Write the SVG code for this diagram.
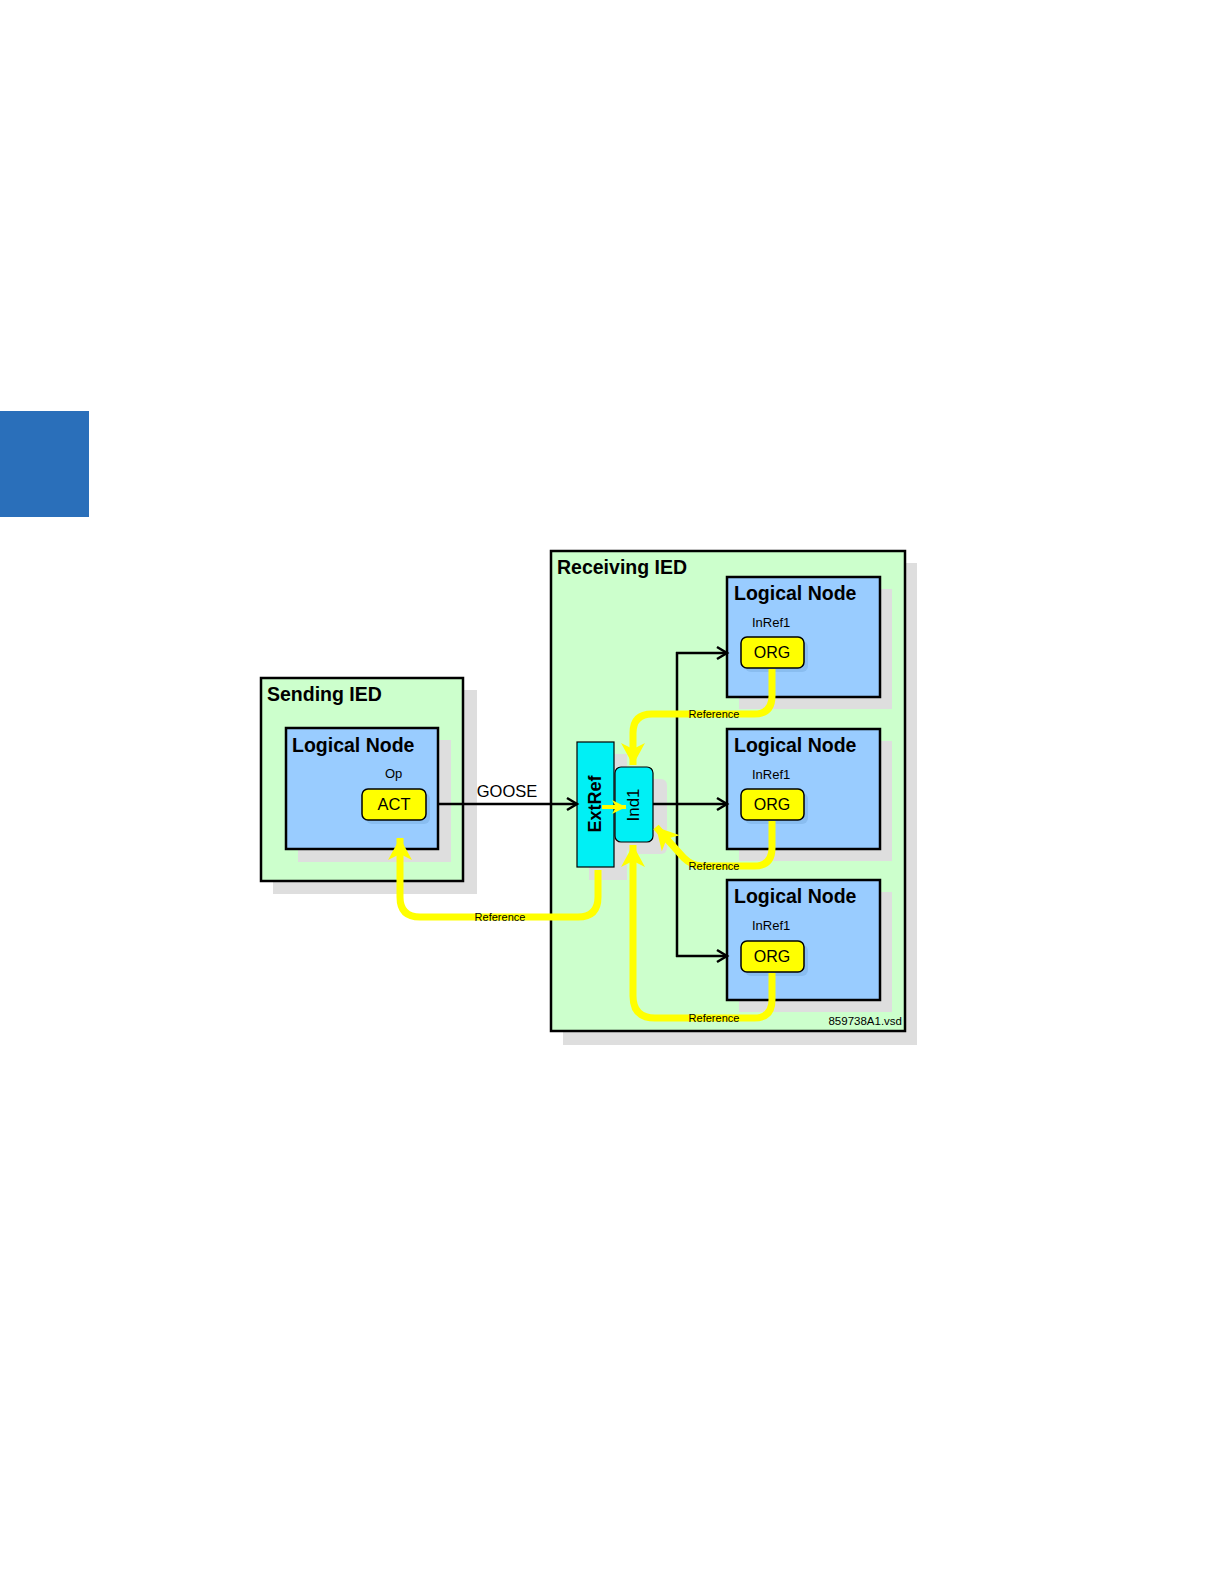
<svg xmlns="http://www.w3.org/2000/svg" width="1224" height="1584" viewBox="0 0 1224 1584">
<defs>
<style>
.ied{fill:#ccffcc;stroke:#000;stroke-width:2.5}
.ln{fill:#99ccff;stroke:#000;stroke-width:2.5}
.sh{fill:#dedede}
.box{fill:#ffff00;stroke:#000;stroke-width:1.5}
.bsh{fill:#7fb2e6;opacity:0.6}
.cy{fill:#00f0f5;stroke:#000;stroke-width:1.2}
.t{font-family:"Liberation Sans",Arial,sans-serif;fill:#000}
.b{font-weight:bold}
.link{fill:none;stroke:#000;stroke-width:2.5}
.ref{fill:none;stroke:#ffff00;stroke-width:7;stroke-linecap:butt}
</style>
<marker id="blk" markerUnits="userSpaceOnUse" markerWidth="16" markerHeight="16" refX="12" refY="8" orient="auto">
<path d="M2,2 L12,8 L2,14" fill="none" stroke="#000" stroke-width="2.5"/>
</marker>
<marker id="yel" markerUnits="userSpaceOnUse" markerWidth="26" markerHeight="26" refX="22" refY="13" orient="auto">
<path d="M0,1 L22,13 L0,25 L6,13 Z" fill="#ffff00"/>
</marker>
<marker id="yels" markerUnits="userSpaceOnUse" markerWidth="16" markerHeight="16" refX="14" refY="8" orient="auto">
<path d="M0,1 L14,8 L0,15 L4,8 Z" fill="#ffff00"/>
</marker>
</defs>
<rect x="0" y="411" width="89" height="106" fill="#2a6fba"/>

<g id="sending-ied">
<rect class="sh" x="273" y="690" width="204" height="204"/>
<rect class="ied" x="261" y="678" width="202" height="203"/>
<text class="t b" x="267" y="701" font-size="19.5">Sending IED</text>
</g>
<g id="sending-ln">
<rect class="sh" x="298" y="740" width="153" height="122"/>
<rect class="ln" x="286" y="728" width="152" height="121"/>
<text class="t b" x="292" y="752" font-size="19.5">Logical Node</text>
<text class="t" x="385" y="778" font-size="13">Op</text>
</g>
<g id="act">
<rect class="bsh" x="366" y="793" width="64" height="31" rx="6"/>
<rect class="box" x="362" y="789" width="64" height="31" rx="6"/>
<text class="t" x="394" y="810" font-size="16.5" text-anchor="middle">ACT</text>
</g>

<g id="receiving-ied">
<rect class="sh" x="563" y="563" width="354" height="482"/>
<rect class="ied" x="551" y="551" width="354" height="480"/>
<text class="t b" x="557" y="574" font-size="19.5">Receiving IED</text>
<text class="t" x="902" y="1025" font-size="11.5" text-anchor="end">859738A1.vsd</text>
</g>

<g id="ln1">
<rect class="sh" x="739" y="589" width="153" height="120"/>
<rect class="ln" x="727" y="577" width="153" height="120"/>
<text class="t b" x="734" y="600" font-size="19.5">Logical Node</text>
<text class="t" x="752" y="627" font-size="13">InRef1</text>
<rect class="bsh" x="745" y="641" width="63" height="31" rx="6"/>
<rect class="box" x="741" y="637" width="63" height="31" rx="6"/>
<text class="t" x="772" y="658" font-size="16" text-anchor="middle">ORG</text>
</g>
<g id="ln2">
<rect class="sh" x="739" y="741" width="153" height="120"/>
<rect class="ln" x="727" y="729" width="153" height="120"/>
<text class="t b" x="734" y="752" font-size="19.5">Logical Node</text>
<text class="t" x="752" y="779" font-size="13">InRef1</text>
<rect class="bsh" x="745" y="793" width="63" height="31" rx="6"/>
<rect class="box" x="741" y="789" width="63" height="31" rx="6"/>
<text class="t" x="772" y="810" font-size="16" text-anchor="middle">ORG</text>
</g>
<g id="ln3">
<rect class="sh" x="739" y="892" width="153" height="120"/>
<rect class="ln" x="727" y="880" width="153" height="120"/>
<text class="t b" x="734" y="903" font-size="19.5">Logical Node</text>
<text class="t" x="752" y="930" font-size="13">InRef1</text>
<rect class="bsh" x="745" y="945" width="63" height="31" rx="6"/>
<rect class="box" x="741" y="941" width="63" height="31" rx="6"/>
<text class="t" x="772" y="962" font-size="16" text-anchor="middle">ORG</text>
</g>

<g id="extref">
<rect class="sh" x="589" y="754" width="38" height="126"/>
<rect class="cy" x="577" y="742" width="37" height="125"/>
<text class="t b" transform="translate(601,804) rotate(-90)" font-size="18" text-anchor="middle">ExtRef</text>
</g>
<g id="ind1">
<rect class="sh" x="627" y="779" width="40" height="75" rx="6"/>
<rect class="cy" x="615" y="767" width="38" height="75" rx="6"/>
<text class="t" transform="translate(639,805) rotate(-90)" font-size="17" text-anchor="middle">Ind1</text>
</g>

<g id="connectors">
<path class="link" d="M438,804 L577,804" marker-end="url(#blk)"/>
<text class="t" x="507" y="797" font-size="16.5" text-anchor="middle">GOOSE</text>
<path class="link" d="M653,804 L727,804" marker-end="url(#blk)"/>
<path class="link" d="M677,652 L677,957"/>
<path class="link" d="M676,653 L727,653" marker-end="url(#blk)"/>
<path class="link" d="M676,956 L727,956" marker-end="url(#blk)"/>

<path class="ref" d="M598,870 L598,897 Q598,917 578,917 L420,917 Q400,917 400,897 L400,838" marker-end="url(#yel)"/>
<path class="ref" d="M772,669 L772,696 Q772,714 754,714 L652,714 Q633,714 633,733 L633,765" marker-end="url(#yel)"/>
<path class="ref" d="M772,821 L772,848 Q772,866 754,866 L702,866 Q692,866 684,858 L656,827" marker-end="url(#yel)"/>
<path class="ref" d="M772,973 L772,1000 Q772,1018 754,1018 L655,1018 Q633,1018 633,996 L633,845" marker-end="url(#yel)"/>
<path d="M602,807 L626,807" stroke="#ffff00" stroke-width="4" fill="none" marker-end="url(#yels)"/>

<text class="t" x="500" y="921" font-size="11" text-anchor="middle">Reference</text>
<text class="t" x="714" y="718" font-size="11" text-anchor="middle">Reference</text>
<text class="t" x="714" y="870" font-size="11" text-anchor="middle">Reference</text>
<text class="t" x="714" y="1022" font-size="11" text-anchor="middle">Reference</text>
</g>
</svg>
